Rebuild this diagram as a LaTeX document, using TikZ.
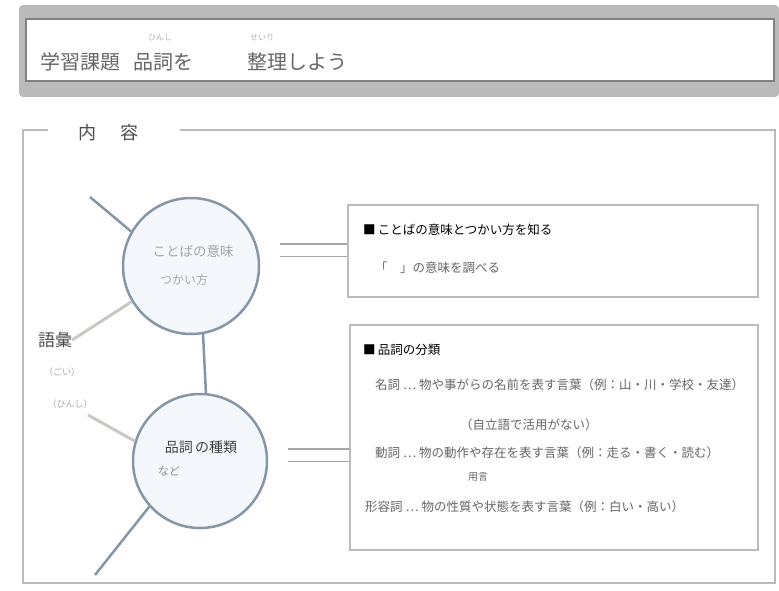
\documentclass[tikz,border=0pt]{standalone}
\usepackage{fontspec}
\setmainfont{Noto Sans CJK JP}
\usetikzlibrary{calc}
\definecolor{circ}{HTML}{8696A8}
\definecolor{circfill}{HTML}{F4F8FC}
\definecolor{boxc}{HTML}{BBBBBB}
\definecolor{txt}{HTML}{666666}
\definecolor{lighttxt}{HTML}{A8A8A8}
\definecolor{faintline}{HTML}{C6CAC2}
\begin{document}
\begin{tikzpicture}[x=1pt,y=-1pt,
  bubble/.style={circle, draw=circ, fill=circfill, line width=2.5pt, inner sep=0pt},
  infobox/.style={draw=boxc, line width=2.5pt, inner sep=0pt},
  eqline/.style={draw=black!35, line width=1.6pt, double=white, double distance=11pt},
  spoke/.style={draw=circ, line width=2.5pt},
  faint/.style={draw=faintline, line width=3pt},
  tx/.style={text=txt, inner sep=0pt, anchor=west, font=\fontsize{12.5}{15}\selectfont},
  ttl/.style={text=black!60, inner sep=0pt, anchor=west, font=\fontsize{20}{24}\selectfont},
  ruby/.style={text=black!30, inner sep=0pt, font=\fontsize{8}{9}\selectfont},
  small/.style={text=lighttxt, inner sep=0pt, font=\fontsize{9}{11}\selectfont}
]
\useasboundingbox (0,0) rectangle (779,591);
\fill[white] (0,0) rectangle (779,591);

% title band
\fill[black!27, rounded corners=4pt] (19,5) rectangle (779,97);
\fill[white] (27,20) rectangle (773,80);
\draw[black!50, line width=1.5pt] (26,19) rectangle (774,81);
\node[ttl] (t1) at (40,62) {学習課題};
\node[ttl] (t2) at (133,62) {品詞を};
\node[ttl] (t3) at (247,62) {整理しよう};
\node[ruby] (r1) at (160,38) {ひんし};
\node[ruby] (r2) at (262,38) {せいり};

% content frame
\draw[boxc, line width=2pt] (48,130) -- (23,130) -- (23,583) -- (775,583) -- (775,130) -- (180,130);
\node[text=black!70, inner sep=0pt, font=\fontsize{18}{20}\selectfont] (lab1) at (87,133) {内};
\node[text=black!70, inner sep=0pt, font=\fontsize{18}{20}\selectfont] (lab2) at (129,133) {容};

% bubbles
\node[bubble, minimum size=136pt] (c1) at (191,266) {};
\node[text=black!35, inner sep=0pt, font=\fontsize{13.5}{16}\selectfont] (c1t) at (193,251) {ことばの意味};
\node[text=black!35, inner sep=0pt, font=\fontsize{12}{14}\selectfont] (c1u) at (184,280) {つかい方};
\node[bubble, minimum size=134pt] (c2) at (200,461) {};
\node[text=black!75, inner sep=0pt, font=\fontsize{14}{17}\selectfont] (c2t) at (201,447) {品詞\,の種類};
\node[text=black!45, inner sep=0pt, font=\fontsize{11}{13}\selectfont] (c2s) at (169,471) {など};

% left labels
\node[text=black!70, inner sep=0pt, font=\fontsize{17}{20}\selectfont] (goi) at (55,340) {語彙};
\node[small] (goir) at (62,372) {（ごい）};
\node[small] (hin) at (70,404) {（ひんし）};

% spokes
\coordinate (p1) at (90,197);
\coordinate (p4) at (88,415);
\coordinate (p5) at (95,575);
\draw[spoke] (p1) -- (c1.150);
\draw[faint] (goi.east) -- (c1.211);
\draw[spoke] (c1.-80) -- (c2.85);
\draw[faint] (p4) -- (c2.163);
\draw[spoke] (c2.222) -- (p5);

% info boxes
\node[infobox, minimum width=410pt, minimum height=92pt] (b1) at (553,251) {};
\node[infobox, minimum width=408pt, minimum height=225pt] (b2) at (554,437.5) {};

% equal connectors
\coordinate (e1) at (280,250);
\coordinate (e2) at (288,455);
\draw[eqline] (e1) -- (e1 -| b1.west);
\draw[eqline] (e2) -- (e2 -| b2.west);

% box 1 text
\node[tx, text=black] (b1a) at (363,230) {■\,ことばの意味とつかい方を知る};
\node[tx] (b1b) at (375,268) {「　」の意味を調べる};

% box 2 text
\node[tx, text=black] (b2a) at (363,350) {■\,品詞の分類};
\node[tx] (b2b) at (375,385) {名詞 … 物や事がらの名前を表す言葉（例：山・川・学校・友達）};
\node[tx] (b2c) at (460,425) {（自立語で活用がない）};
\node[tx] (b2d) at (375,453) {動詞 … 物の動作や存在を表す言葉（例：走る・書く・読む）};
\node[tx, font=\fontsize{10}{12}\selectfont] (b2e) at (468,477) {用言};
\node[tx] (b2f) at (365,507) {形容詞 … 物の性質や状態を表す言葉（例：白い・高い）};
\end{tikzpicture}
\end{document}
